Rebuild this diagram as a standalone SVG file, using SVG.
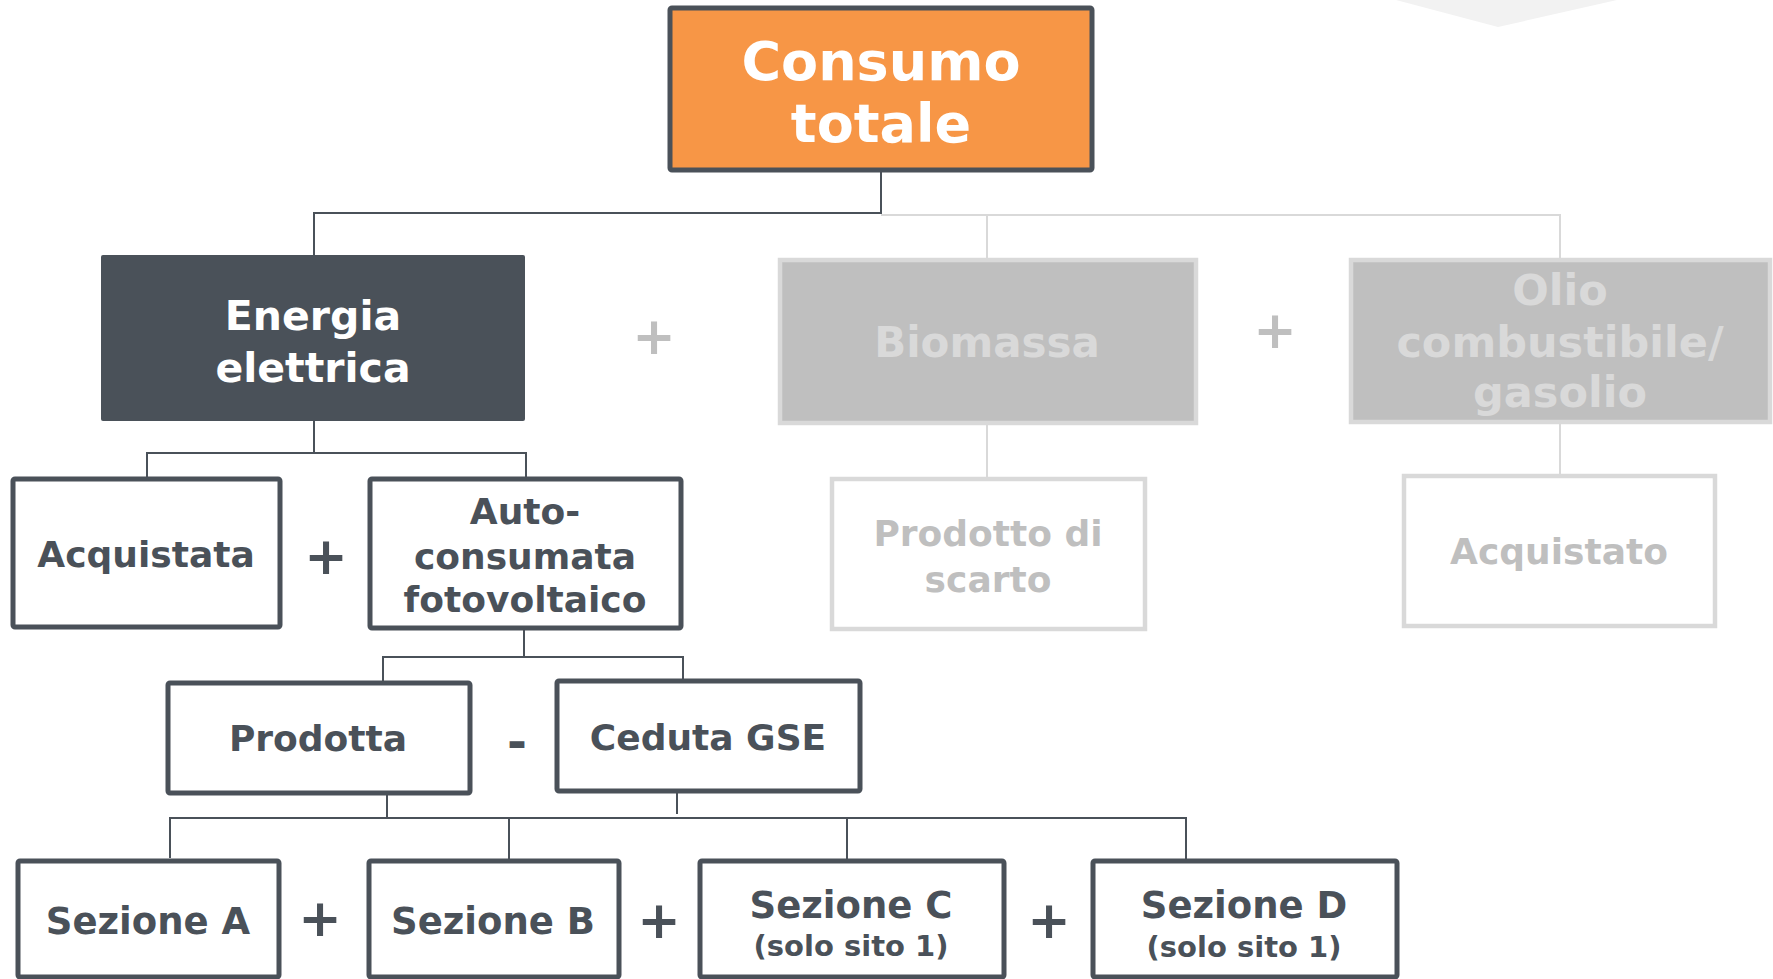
<svg xmlns="http://www.w3.org/2000/svg" width="1773" height="979" viewBox="0 0 1773 979">
<style>
text{font-family:"DejaVu Sans","Liberation Sans",sans-serif;font-weight:bold;text-anchor:middle}
.dk{fill:#4A5159}
.wt{fill:#FFFFFF}
.lg{fill:#D9D9D9}
.mg{fill:#BFBFBF}
.box{fill:#FFFFFF;stroke:#4A5159;stroke-width:5}
.gbox{fill:#FFFFFF;stroke:#D9D9D9;stroke-width:4.5}
.c{fill:none;stroke:#4A5159;stroke-width:2}
.cg{fill:none;stroke:#D9D9D9;stroke-width:2}
.op{font-size:52px}
</style>
<polygon points="1396,0 1498,27 1617,0" fill="#F2F2F2"/>
<g id="connectors">
<polyline class="c" points="881,171 881,213 314,213 314,255"/>
<polyline class="cg" points="881,215 1560,215 1560,258"/>
<line class="cg" x1="987" y1="215" x2="987" y2="258"/>
<line class="cg" x1="987" y1="424" x2="987" y2="477"/>
<line class="cg" x1="1560" y1="423" x2="1560" y2="474"/>
<polyline class="c" points="314,421 314,453"/>
<polyline class="c" points="147,477 147,453 526,453 526,477"/>
<polyline class="c" points="524,629 524,657"/>
<polyline class="c" points="383,681 383,657 683,657 683,679"/>
<line class="c" x1="387" y1="794" x2="387" y2="818"/>
<line class="c" x1="677" y1="793" x2="677" y2="814"/>
<polyline class="c" points="170,858 170,818 1186,818 1186,859"/>
<line class="c" x1="509" y1="818" x2="509" y2="859"/>
<line class="c" x1="847" y1="818" x2="847" y2="859"/>
</g>
<g id="consumo">
<rect x="670" y="8" width="422" height="162" rx="2" fill="#F79646" stroke="#4A5159" stroke-width="5"/>
<text class="wt" x="881" y="80" font-size="54">Consumo</text>
<text class="wt" x="881" y="142" font-size="54">totale</text>
</g>
<g id="energia">
<rect x="101" y="255" width="424" height="166" rx="2" fill="#4A5159"/>
<text class="wt" x="313" y="330" font-size="41">Energia</text>
<text class="wt" x="313" y="382" font-size="41">elettrica</text>
</g>
<text class="mg op" x="654" y="354">+</text>
<g id="biomassa">
<rect x="780" y="260" width="416" height="163" fill="#BFBFBF" stroke="#D9D9D9" stroke-width="4.5"/>
<text class="lg" x="987" y="357" font-size="42">Biomassa</text>
</g>
<text class="mg op" x="1275" y="348">+</text>
<g id="olio">
<rect x="1351" y="260" width="419" height="162" fill="#BFBFBF" stroke="#D9D9D9" stroke-width="4.5"/>
<text class="lg" x="1560" y="305" font-size="43">Olio</text>
<text class="lg" x="1560" y="357" font-size="43">combustibile/</text>
<text class="lg" x="1560" y="407" font-size="43">gasolio</text>
</g>
<g id="acquistata">
<rect class="box" x="13" y="479" width="267" height="148" rx="2"/>
<text class="dk" x="146" y="567" font-size="36">Acquistata</text>
</g>
<text class="dk op" x="326" y="574">+</text>
<g id="autoconsumata">
<rect class="box" x="370" y="479" width="311" height="149" rx="2"/>
<text class="dk" x="525" y="524" font-size="36">Auto-</text>
<text class="dk" x="525" y="569" font-size="36">consumata</text>
<text class="dk" x="525" y="612" font-size="36">fotovoltaico</text>
</g>
<g id="prodotto-scarto">
<rect class="gbox" x="832" y="479" width="313" height="150"/>
<text class="mg" x="988" y="546" font-size="36">Prodotto di</text>
<text class="mg" x="988" y="592" font-size="36">scarto</text>
</g>
<g id="acquistato">
<rect class="gbox" x="1404" y="476" width="311" height="150"/>
<text class="mg" x="1559" y="564" font-size="36">Acquistato</text>
</g>
<g id="prodotta">
<rect class="box" x="168" y="683" width="302" height="110" rx="2"/>
<text class="dk" x="318" y="751" font-size="36">Prodotta</text>
</g>
<text class="dk" x="517" y="758" font-size="48">-</text>
<g id="ceduta">
<rect class="box" x="557" y="681" width="303" height="110" rx="2"/>
<text class="dk" x="708" y="750" font-size="36">Ceduta GSE</text>
</g>
<g id="sezioneA">
<rect class="box" x="18" y="861" width="261" height="116" rx="2"/>
<text class="dk" x="148" y="934" font-size="37">Sezione A</text>
</g>
<text class="dk op" x="320" y="936">+</text>
<g id="sezioneB">
<rect class="box" x="369" y="861" width="250" height="116" rx="2"/>
<text class="dk" x="493" y="934" font-size="37">Sezione B</text>
</g>
<text class="dk op" x="659" y="938">+</text>
<g id="sezioneC">
<rect class="box" x="700" y="861" width="304" height="116" rx="2"/>
<text class="dk" x="851" y="918" font-size="37">Sezione C</text>
<text class="dk" x="851" y="956" font-size="29">(solo sito 1)</text>
</g>
<text class="dk op" x="1049" y="938">+</text>
<g id="sezioneD">
<rect class="box" x="1093" y="861" width="304" height="116" rx="2"/>
<text class="dk" x="1244" y="918" font-size="37">Sezione D</text>
<text class="dk" x="1244" y="957" font-size="29">(solo sito 1)</text>
</g>
</svg>
